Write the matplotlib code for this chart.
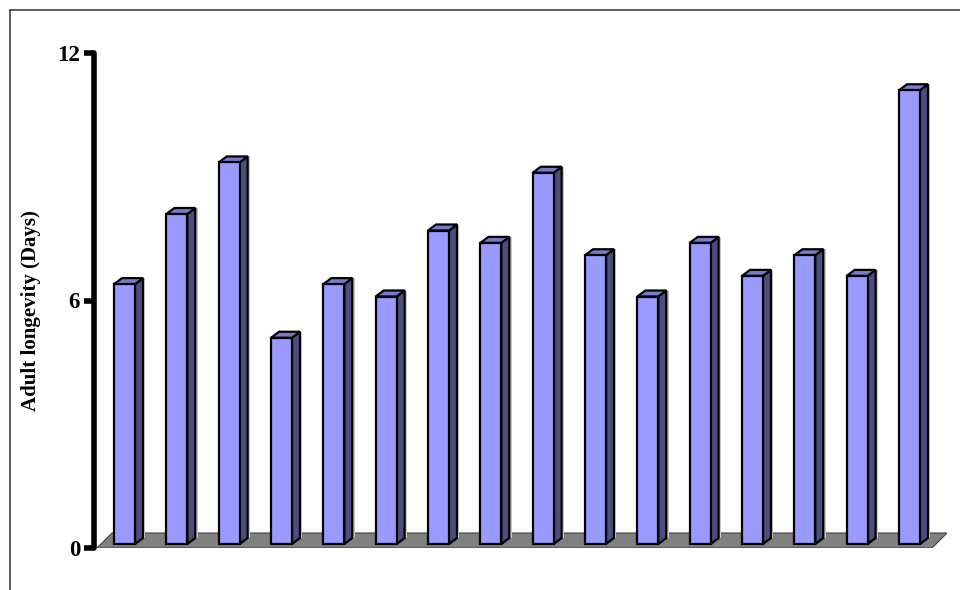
import matplotlib.pyplot as plt
from matplotlib.patches import Polygon
from matplotlib.lines import Line2D

plt.rcParams['font.family'] = ['Liberation Serif', 'DejaVu Serif']

# adult longevity (days) for the 16 treatments
longevity = [6.3, 8.0, 9.25, 5.0, 6.3, 6.0, 7.6, 7.3, 9.0, 7.0, 6.0, 7.3, 6.5, 7.0, 6.5, 11.0]
y_ticks = [0, 6, 12]
y_label = "Adult longevity (Days)"

front_col = '#9999ff'
top_col = '#7a7acc'
side_col = '#4d4d80'
floor_col = '#808080'


def main():
    fig = plt.figure(figsize=(9.6, 5.9), dpi=100)
    ax = fig.add_axes([94 / 960, 42 / 590, 853 / 960, 495 / 590])
    n = len(longevity)
    x = list(range(n))

    px_x = 1 / 52.33   # data units per pixel
    px_y = 1 / 41.25
    ax.set_xlim(-30.5 * px_x, n - 1 + 37.5 * px_x)
    ax.set_ylim(0, 12)

    # floor
    fl = -27.5 * px_x
    fr = n - 1 + 22.5 * px_x
    d = 15
    floor = Polygon([(fl, 0), (fr, 0), (fr + d * px_x, d * px_y), (fl + d * px_x, d * px_y)],
                    closed=True, facecolor=floor_col, edgecolor='#404040', lw=0.8, zorder=1)
    ax.add_patch(floor)

    # bars: front faces through ax.bar, side and top faces as polygons
    w = 0.4
    base = 4 * px_y
    ddx, ddy = 8 * px_x, 6 * px_y
    ax.bar(x, longevity, width=w, bottom=base, color=front_col, edgecolor='black',
           linewidth=1.6, zorder=4)
    for xi, v in zip(x, longevity):
        r = xi + w / 2
        l = xi - w / 2
        t = base + v
        shadow = Polygon([(r + ddx, base + ddy), (r + ddx + 2.5 * px_x, base + ddy),
                          (r + ddx + 2.5 * px_x, t + ddy), (r + ddx, t + ddy)],
                         closed=True, facecolor='#c8c8c8', edgecolor='none', zorder=2)
        side = Polygon([(r, base), (r + ddx, base + ddy), (r + ddx, t + ddy), (r, t)],
                       closed=True, facecolor=side_col, edgecolor='black', lw=1.6, zorder=3)
        top = Polygon([(l, t), (r, t), (r + ddx, t + ddy), (l + ddx, t + ddy)],
                      closed=True, facecolor=top_col, edgecolor='black', lw=1.6, zorder=3)
        ax.add_patch(shadow)
        ax.add_patch(side)
        ax.add_patch(top)

    for s in ['top', 'right', 'bottom']:
        ax.spines[s].set_visible(False)
    ax.spines['left'].set_linewidth(4)
    ax.spines['left'].set_capstyle('round')
    ax.set_xticks([])
    ax.set_yticks(y_ticks)
    ax.tick_params(axis='y', length=7, width=4, pad=3, labelsize=16.5)
    for lab in ax.get_yticklabels():
        lab.set_fontweight('bold')
    for t in ax.yaxis.get_ticklines():
        t.set_solid_capstyle('round')
    ax.patch.set_visible(False)

    fig.text(31.5 / 960, 1 - 311 / 590, y_label, rotation=90, ha='center', va='center',
             fontsize=15, fontweight='bold')

    # chart area border (top and left edges visible in the picture)
    fig.add_artist(Line2D([9.5 / 960, 1.0], [1 - 9.5 / 590, 1 - 9.5 / 590],
                          transform=fig.transFigure, color='#404040', lw=1.2))
    fig.add_artist(Line2D([9.5 / 960, 9.5 / 960], [0, 1 - 9.5 / 590],
                          transform=fig.transFigure, color='#404040', lw=1.2))

    fig.savefig('out.png', dpi=100)


if __name__ == '__main__':
    main()
